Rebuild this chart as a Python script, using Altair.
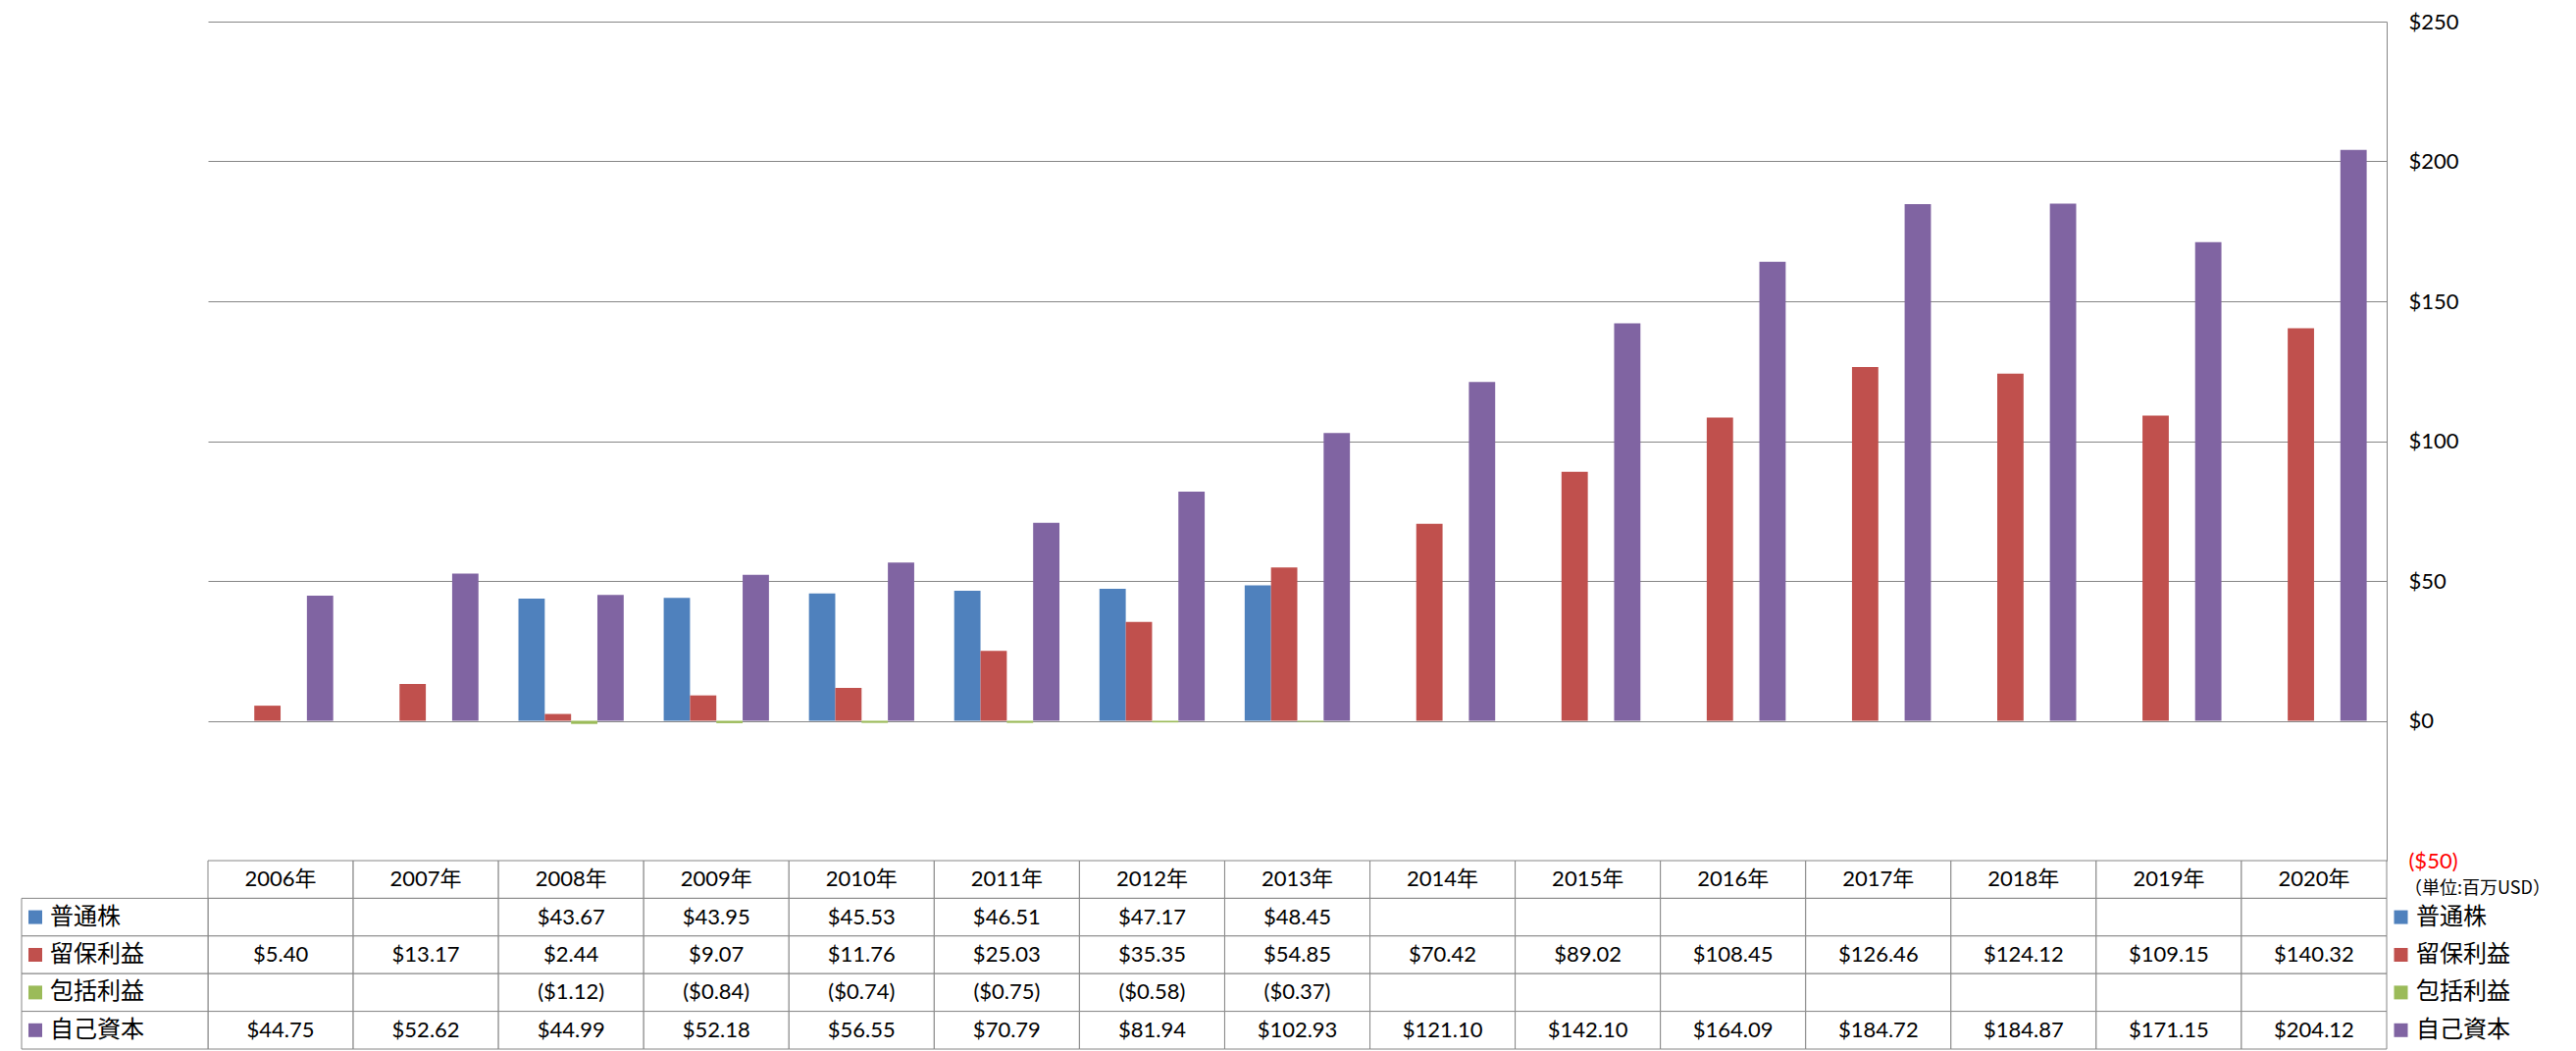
import altair as alt
import pandas as pd

years = ["2006年", "2007年", "2008年", "2009年", "2010年", "2011年", "2012年", "2013年",
         "2014年", "2015年", "2016年", "2017年", "2018年", "2019年", "2020年"]
series = ["普通株", "留保利益", "包括利益", "自己資本"]
colors = ["#4F81BD", "#C0504D", "#9BBB59", "#8064A2"]

common_stock = [None, None, 43.67, 43.95, 45.53, 46.51, 47.17, 48.45,
                None, None, None, None, None, None, None]
retained = [5.40, 13.17, 2.44, 9.07, 11.76, 25.03, 35.35, 54.85,
            70.42, 89.02, 108.45, 126.46, 124.12, 109.15, 140.32]
comprehensive = [None, None, -1.12, -0.84, -0.74, -0.75, -0.58, -0.37,
                 None, None, None, None, None, None, None]
equity = [44.75, 52.62, 44.99, 52.18, 56.55, 70.79, 81.94, 102.93,
          121.10, 142.10, 164.09, 184.72, 184.87, 171.15, 204.12]
y_ticks = [-50, 0, 50, 100, 150, 200, 250]
unit_label = "（単位:百万USD）"

GRAY = "#868686"
NUM_FONT = "Lato, Noto Sans CJK JP"
CJK_FONT = "Noto Sans CJK JP"


def fmt(v):
    return f"(${-v:.2f})" if v < 0 else f"${v:.2f}"


records = []
for s, vals in zip(series, [common_stock, retained, comprehensive, equity]):
    for y, v in zip(years, vals):
        if v is not None:
            records.append({"year": y, "series": s, "value": v, "text": fmt(v)})
df = pd.DataFrame(records)

rows = ["hdr"] + series

# ---------- bar chart ----------
x_scale = alt.Scale(domain=years, paddingInner=0, paddingOuter=0)
color_scale = alt.Scale(domain=series, range=colors)

label_expr = ("datum.value < 0 ? '($' + format(-datum.value, 'd') + ')' "
              ": '$' + format(datum.value, 'd')")

bars = alt.Chart(df).mark_bar().encode(
    x=alt.X("year:N", scale=x_scale, axis=None),
    xOffset=alt.XOffset("series:N",
                        scale=alt.Scale(domain=series, paddingInner=0, paddingOuter=0.76)),
    y=alt.Y("value:Q",
            scale=alt.Scale(domain=[-50, 250], nice=False, zero=False),
            axis=alt.Axis(orient="right", values=y_ticks, grid=True, gridColor=GRAY,
                          gridWidth=1, domainColor=GRAY, domainWidth=1, ticks=False,
                          labelPadding=22, labelFont=NUM_FONT, labelFontSize=22,
                          labelExpr=label_expr, title=None,
                          labelColor={"condition": {"test": "datum.value < 0",
                                                    "value": "#FF0000"},
                                      "value": "#000000"})),
    color=alt.Color("series:N", scale=color_scale, legend=None),
).properties(width=2221, height=855)

# ---------- data table ----------
cells = pd.DataFrame([{"year": y, "row": r} for r in rows for y in years])
text_rows = [{"year": y, "row": "hdr", "text": y} for y in years]
text_rows += [{"year": r["year"], "row": r["series"], "text": r["text"]} for r in records]
text_df = pd.DataFrame(text_rows)
ser_df = pd.DataFrame({"row": series})
unit_df = pd.DataFrame({"row": ["hdr"], "t": [unit_label]})

x_t = alt.X("year:N", scale=x_scale, axis=None)
y_t = alt.Y("row:N", scale=alt.Scale(domain=rows, paddingInner=0, paddingOuter=0), axis=None)

grid_cells = alt.Chart(cells).mark_rect(fill="white", stroke=GRAY, strokeWidth=1).encode(
    x=x_t, y=y_t)
cell_text = alt.Chart(text_df).mark_text(font=NUM_FONT, fontSize=22, color="black").encode(
    x=x_t, y=y_t, text="text:N")

lab_cells = alt.Chart(ser_df).mark_rect(fill="white", stroke=GRAY, strokeWidth=1).encode(
    x=alt.value(-190), x2=alt.value(0), y=y_t)
lab_sq = alt.Chart(ser_df).mark_square(size=196, opacity=1).encode(
    x=alt.value(-176), y=y_t,
    color=alt.Color("row:N", scale=color_scale, legend=None))
lab_txt = alt.Chart(ser_df).mark_text(align="left", font=CJK_FONT, fontSize=24,
                                      color="black").encode(
    x=alt.value(-161), y=y_t, text="row:N")

leg_sq = alt.Chart(ser_df).mark_square(size=196, opacity=1).encode(
    x=alt.value(2235.5), y=y_t,
    color=alt.Color("row:N", scale=color_scale, legend=None))
leg_txt = alt.Chart(ser_df).mark_text(align="left", font=CJK_FONT, fontSize=24,
                                      color="black").encode(
    x=alt.value(2251), y=y_t, text="row:N")
unit_txt = alt.Chart(unit_df).mark_text(align="left", font=CJK_FONT, fontSize=18,
                                        color="black", dy=10).encode(
    x=alt.value(2239), y=y_t, text="t:N")

table = alt.layer(grid_cells, cell_text, lab_cells, lab_sq, lab_txt,
                  leg_sq, leg_txt, unit_txt).properties(width=2221, height=192)

chart = alt.vconcat(bars, table, spacing=0, bounds="flush").resolve_scale(
    x="independent", y="independent"
).properties(
    padding={"left": 13, "top": 3, "right": 5, "bottom": 0}
).configure_view(stroke=None)

chart.save("out.html", embed_options={"renderer": "svg", "actions": False})
